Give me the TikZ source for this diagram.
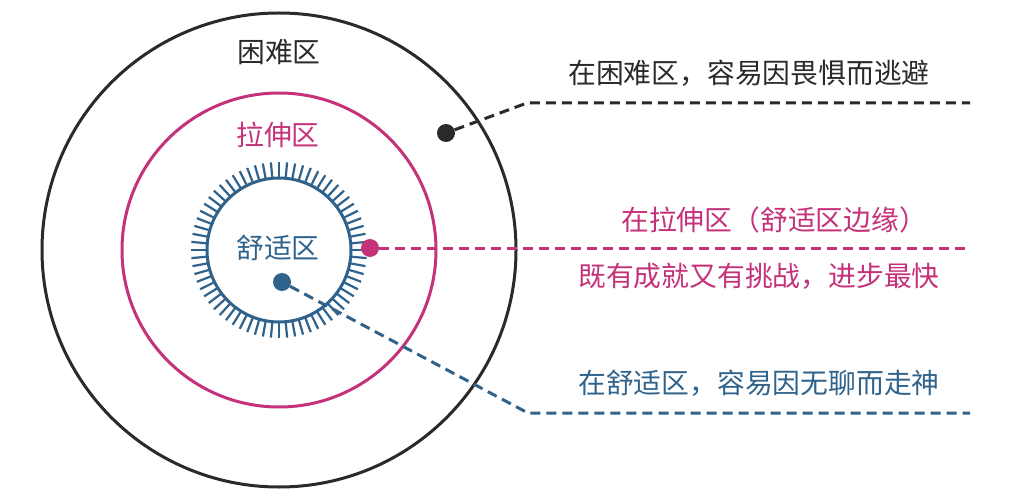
\documentclass[tikz,border=0pt]{standalone}
\usepackage{fontspec}
\newfontfamily\cjk{Noto Sans CJK SC}
\usetikzlibrary{calc}
\definecolor{hardBlack}{HTML}{2A2A2A}
\definecolor{stretchPink}{HTML}{C5327A}
\definecolor{comfortBlue}{HTML}{30638C}
\tikzset{
  zone/.style={line width=3},
  tick/.style={comfortBlue, line width=2.2},
  marker/.style={circle, inner sep=0pt, minimum size=18},
  lead/.style={line width=3, dash pattern=on 10 off 6},
  zonetext/.style={font=\cjk\fontsize{27.8}{30}\selectfont, inner sep=0pt},
  notetext/.style={font=\cjk\fontsize{27.8}{30}\selectfont, inner sep=0pt, anchor=west}
}

\begin{document}
\begin{tikzpicture}[x=1pt, y=-1pt]
  \useasboundingbox[fill=white] (0,0) rectangle (1010,500);
  \coordinate (C) at (279,250);
  \coordinate (HK) at (527,103);
  \coordinate (HE) at (970,103);
  \coordinate (SE) at (970,248);
  \coordinate (CK) at (528,413);
  \coordinate (CE) at (970,413);

  % ZONES
  \draw[zone, hardBlack] (C) circle (237);
  \draw[zone, stretchPink] (C) circle (157);
  \draw[zone, comfortBlue] (C) circle (72);
  \foreach \i in {0,...,67}
    \draw[tick] (C) ++(\i/68*360:72) -- ++(\i/68*360:16);

  \node[zonetext, hardBlack] (hard) at (279,52) {困难区};
  \node[zonetext, stretchPink] (stretch) at (278,135) {拉伸区};
  \node[zonetext, comfortBlue] (comfort) at (278,248) {舒适区};

  % DOTS AND LEADERS
  \node[marker, fill=hardBlack] (hdot) at (446,133) {};
  \node[marker, fill=stretchPink] (sdot) at (370,248) {};
  \node[marker, fill=comfortBlue] (cdot) at (282,282) {};
  \draw[lead, hardBlack] (hdot) -- (HK) -- (HE);
  \draw[lead, stretchPink] (sdot) -- (SE);
  \draw[lead, comfortBlue] (cdot) -- (CK) -- (CE);

  % NOTES
  \node[notetext, hardBlack] (hnote) at (568,73) {在困难区，容易因畏惧而逃避};
  \node[notetext, stretchPink] (snote) at (621,220) {在拉伸区（舒适区边缘）};
  \node[notetext, stretchPink] (snote2) at (578,276) {既有成就又有挑战，进步最快};
  \node[notetext, comfortBlue] (cnote) at (578,383) {在舒适区，容易因无聊而走神};
\end{tikzpicture}
\end{document}
